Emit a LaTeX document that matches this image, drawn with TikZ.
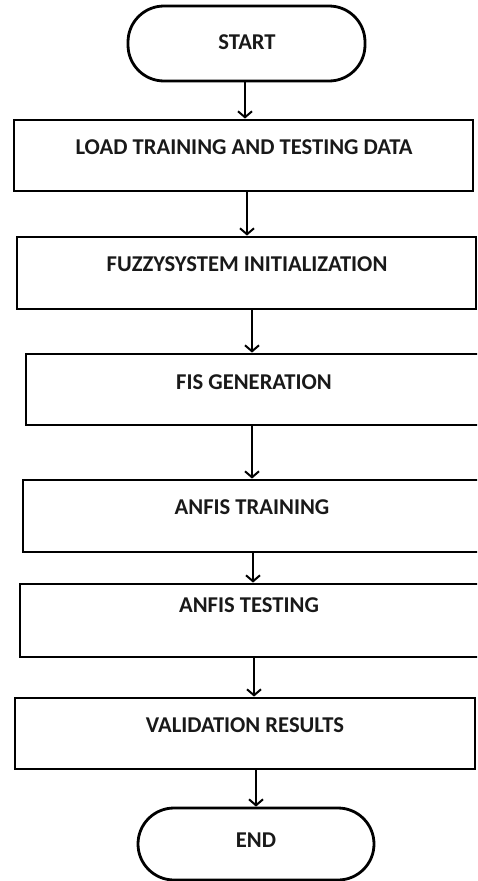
\documentclass[tikz,border=0pt]{standalone}
\usepackage{fontspec}
\setmainfont{Carlito}
\usetikzlibrary{arrows.meta}
\tikzset{
  stepbox/.style={draw=black, line width=2.8pt, rectangle, inner sep=0pt, minimum width=459pt, minimum height=72pt},
  termbox/.style={draw=black, line width=2.8pt, rectangle, rounded corners=36pt, inner sep=0pt},
  caption/.style={inner sep=0pt, font=\bfseries\fontsize{22.6}{26}\selectfont, text=black!90},
  flow/.style={line width=1.8pt, -{Straight Barb[length=6pt, width=14pt, line width=2pt]}}
}
\begin{document}
\begin{tikzpicture}[x=1pt, y=-1pt]
\useasboundingbox (0,0) rectangle (477,881);
\clip (0,0) rectangle (477,881);

% terminals and process boxes
\node[termbox, minimum width=237pt, minimum height=75pt] (start) at (246.5,43.5) {};
\node[stepbox, minimum height=71pt] (load) at (243.5,155.5) {};
\node[stepbox] (fuzzy) at (246.5,273) {};
\node[stepbox, minimum height=71pt] (fis) at (255.5,389.5) {};
\node[stepbox] (train) at (252.5,516) {};
\node[stepbox, minimum width=462pt, minimum height=73pt] (test) at (251,620.5) {};
\node[stepbox, minimum width=460pt, minimum height=71pt] (valid) at (245,733.5) {};
\node[termbox, minimum width=236pt, minimum height=72pt] (end) at (256,844) {};

% labels, set in the upper part of each box
\node[caption] (tstart) at (247,42) {START};
\node[caption] (tload) at (244,147) {LOAD TRAINING AND TESTING DATA};
\node[caption] (tfuzzy) at (247,264) {FUZZYSYSTEM INITIALIZATION};
\node[caption] (tfis) at (254,382) {FIS GENERATION};
\node[caption] (ttrain) at (252,507) {ANFIS TRAINING};
\node[caption] (ttest) at (249,605) {ANFIS TESTING};
\node[caption] (tvalid) at (245,725) {VALIDATION RESULTS};
\node[caption] (tend) at (256,840) {END};

% connectors
\draw[flow] (start.south -| 245,0) -- (load.north -| 245,0);
\draw[flow] (load.south -| 247,0) -- (fuzzy.north -| 247,0);
\draw[flow] (fuzzy.south -| 252,0) -- (fis.north -| 252,0);
\draw[flow] (fis.south -| 252,0) -- (train.north -| 252,0);
\draw[flow] (train.south -| 253,0) -- (test.north -| 253,0);
\draw[flow] (test.south -| 254,0) -- (valid.north -| 254,0);
\draw[flow] (valid.south -| 256,0) -- (end.north -| 256,0);
\end{tikzpicture}
\end{document}
